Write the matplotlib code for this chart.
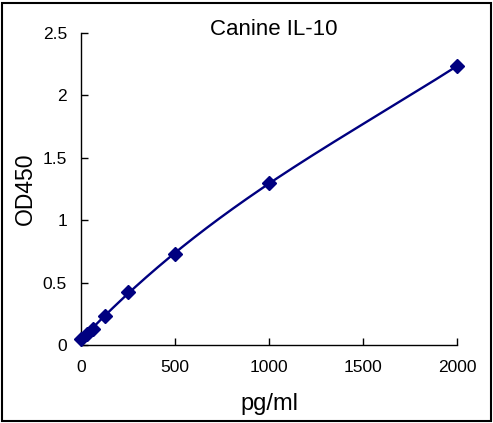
import matplotlib
matplotlib.use("Agg")
import matplotlib.pyplot as plt
import numpy as np
from matplotlib.patches import Rectangle

conc = [0, 31.25, 62.5, 125, 250, 500, 1000, 2000]
od = [0.05, 0.085, 0.125, 0.235, 0.425, 0.73, 1.295, 2.235]
xticks = [0, 500, 1000, 1500, 2000]
yticks = [0, 0.5, 1, 1.5, 2, 2.5]
ytick_labels = ["0", "0.5", "1", "1.5", "2", "2.5"]

plt.rcParams['font.family'] = ['Liberation Sans', 'DejaVu Sans']
navy = '#000080'

fig = plt.figure(figsize=(4.93, 4.23), dpi=100)
ax = fig.add_axes([81/493, 1-345/423, (457-81)/493, (345-33)/423])

coef = np.polyfit(conc, od, 3)
xs = np.linspace(min(conc), max(conc), 300)
ax.plot(xs, np.polyval(coef, xs), color=navy, lw=1.7, clip_on=False)
ax.plot(conc, od, linestyle='none', marker='D', ms=7.5, color=navy, clip_on=False, zorder=3)

ax.set_xlim(0, 2000)
ax.set_ylim(0, 2.5)
ax.set_xticks(xticks)
ax.set_yticks(yticks)
ax.set_yticklabels(ytick_labels)
for s in ['top', 'right']:
    ax.spines[s].set_visible(False)
for s in ['left', 'bottom']:
    ax.spines[s].set_linewidth(1.0)
ax.tick_params(direction='in', length=5, width=1, labelsize=12.5)
ax.tick_params(axis='y', pad=10)
ax.tick_params(axis='x', pad=11)

fig.text(274/493, 1-35/423, "Canine IL-10", fontsize=16, ha='center', va='baseline')
ax.set_xlabel("pg/ml", fontsize=17, labelpad=13)
ax.set_ylabel("OD450", fontsize=16.5, labelpad=4)

fig.patches.append(Rectangle((2/493, 2/423), 489/493, 418/423, transform=fig.transFigure,
                             fill=False, edgecolor='black', lw=1.5))

fig.savefig("out.png", dpi=100)
